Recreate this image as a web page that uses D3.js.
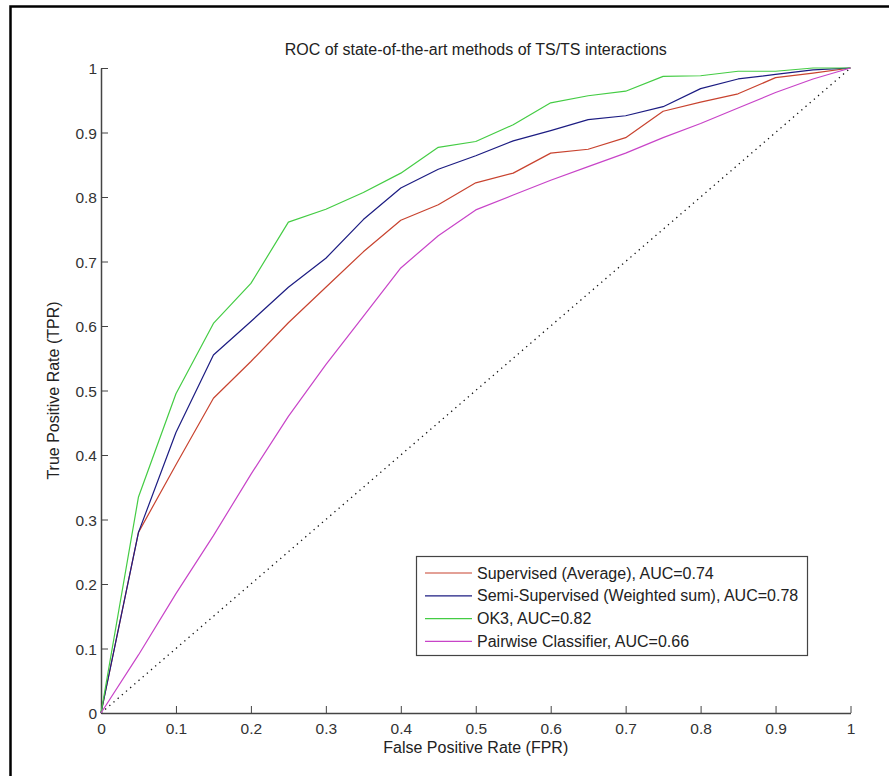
<!DOCTYPE html>
<html>
<head>
<meta charset="utf-8">
<script src="https://cdn.jsdelivr.net/npm/d3@7"></script>
<style>
  html, body { margin: 0; padding: 0; background: #fff; }
  svg { display: block; }
  text { font-family: "Liberation Sans", Arial, sans-serif; }
</style>
</head>
<body>
<svg id="chart" width="889" height="776"></svg>
<script>
// False positive rate sample points shared by every curve
const fpr = [0, 0.05, 0.1, 0.15, 0.2, 0.25, 0.3, 0.35, 0.4, 0.45, 0.5,
             0.55, 0.6, 0.65, 0.7, 0.75, 0.8, 0.85, 0.9, 0.95, 1];

// True positive rates per method
const tprSupervised = [0, 0.28, 0.385, 0.488, 0.545, 0.605, 0.66, 0.715, 0.764, 0.788, 0.822,
                       0.837, 0.868, 0.874, 0.892, 0.933, 0.947, 0.96, 0.985, 0.992, 1];
const tprSemi       = [0, 0.28, 0.435, 0.555, 0.607, 0.66, 0.705, 0.765, 0.814, 0.843, 0.864,
                       0.887, 0.903, 0.92, 0.926, 0.94, 0.968, 0.983, 0.99, 0.997, 1];
const tprOK3        = [0, 0.335, 0.495, 0.604, 0.666, 0.761, 0.781, 0.807, 0.837, 0.877, 0.886,
                       0.912, 0.946, 0.957, 0.964, 0.987, 0.988, 0.995, 0.995, 1.0, 1];
const tprPairwise   = [0, 0.09, 0.185, 0.275, 0.37, 0.46, 0.54, 0.615, 0.69, 0.74, 0.78,
                       0.803, 0.826, 0.847, 0.868, 0.892, 0.914, 0.938, 0.962, 0.983, 1];

const seriesNames = [
  "Supervised (Average), AUC=0.74",
  "Semi-Supervised (Weighted sum), AUC=0.78",
  "OK3, AUC=0.82",
  "Pairwise Classifier, AUC=0.66"
];
const seriesColors = ["#c8432f", "#1c1c82", "#44cc44", "#c844c8"];
const seriesValues = [tprSupervised, tprSemi, tprOK3, tprPairwise];

const tickValues = [0, 0.1, 0.2, 0.3, 0.4, 0.5, 0.6, 0.7, 0.8, 0.9, 1];
const tickLabels = ["0", "0.1", "0.2", "0.3", "0.4", "0.5", "0.6", "0.7", "0.8", "0.9", "1"];
const chance = [0, 1];

const titleText = "ROC of state-of-the-art methods of TS/TS interactions";
const xLabelText = "False Positive Rate (FPR)";
const yLabelText = "True Positive Rate (TPR)";

const svg = d3.select("#chart");
const W = 889, H = 776;
const plot = { left: 101, right: 850.5, top: 68, bottom: 713 };

svg.append("rect").attr("width", W).attr("height", H).attr("fill", "#fff");

// figure frame (left and top edges inside the window)
svg.append("path")
  .attr("d", `M10.5,${H} V6.5 H${W}`)
  .attr("fill", "none").attr("stroke", "#000").attr("stroke-width", 2.5);

const x = d3.scaleLinear().domain([0, 1]).range([plot.left, plot.right]);
const y = d3.scaleLinear().domain([0, 1]).range([plot.bottom, plot.top]);

const fmt = (d, i) => tickLabels[i];

// x axis with inward ticks
const gx = svg.append("g").attr("transform", `translate(0,${plot.bottom})`)
  .call(d3.axisBottom(x).tickValues(tickValues).tickFormat(fmt).tickSizeInner(-7).tickSizeOuter(0));
// y axis with inward ticks
const gy = svg.append("g").attr("transform", `translate(${plot.left},0)`)
  .call(d3.axisLeft(y).tickValues(tickValues).tickFormat(fmt).tickSizeInner(-7).tickSizeOuter(0));

[gx, gy].forEach(g => {
  g.select(".domain").attr("stroke", "#444").attr("stroke-width", 1.5);
  g.selectAll(".tick line").attr("stroke", "#444");
  g.selectAll(".tick text").attr("fill", "#333")
    .style("font-family", '"Liberation Sans", Arial, sans-serif').style("font-size", "15.5px");
});
gy.selectAll(".tick text").attr("x", -4).attr("dy", "0.36em");
gx.selectAll(".tick text").attr("dy", 0).attr("y", 20.5);

// chance diagonal
svg.append("path")
  .datum(chance)
  .attr("d", d3.line().x(d => x(d)).y(d => y(d)))
  .attr("fill", "none").attr("stroke", "#111").attr("stroke-width", 1.3)
  .attr("stroke-dasharray", "1.3,4.2");

const line = d3.line().x((d, i) => x(fpr[i])).y(d => y(d));
seriesValues.forEach((vals, k) => {
  svg.append("path").datum(vals)
    .attr("d", line)
    .attr("fill", "none").attr("stroke", seriesColors[k]).attr("stroke-width", 1.2)
    .attr("stroke-linejoin", "round");
});

// title and axis labels
svg.append("text").attr("x", (plot.left + plot.right) / 2).attr("y", 55)
  .attr("text-anchor", "middle").attr("fill", "#222").style("font-size", "16px").text(titleText);
svg.append("text").attr("x", (plot.left + plot.right) / 2).attr("y", 753)
  .attr("text-anchor", "middle").attr("fill", "#222").style("font-size", "16px").text(xLabelText);
svg.append("text").attr("transform", `translate(59,${(plot.top + plot.bottom) / 2}) rotate(-90)`)
  .attr("text-anchor", "middle").attr("fill", "#222").style("font-size", "16px").text(yLabelText);

// legend
const lg = svg.append("g");
lg.append("rect").attr("x", 416.5).attr("y", 556.5).attr("width", 391).attr("height", 99)
  .attr("fill", "#fff").attr("stroke", "#444").attr("stroke-width", 1.2);
seriesNames.forEach((name, k) => {
  const yy = 573 + k * 22.8;
  lg.append("line").attr("x1", 425).attr("x2", 472).attr("y1", yy).attr("y2", yy)
    .attr("stroke", seriesColors[k]).attr("stroke-width", 1.2);
  lg.append("text").attr("x", 477).attr("y", yy + 5.5).attr("fill", "#222")
    .style("font-size", "16px").text(name);
});
</script>
</body>
</html>
